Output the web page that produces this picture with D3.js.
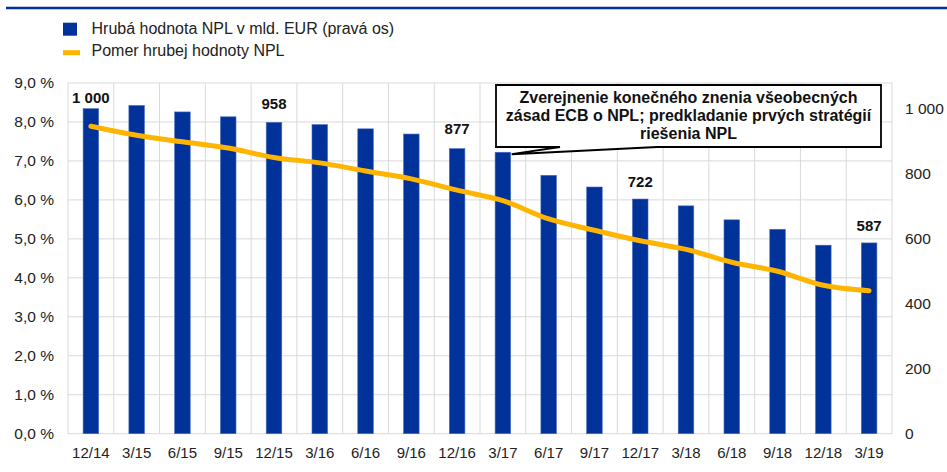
<!DOCTYPE html>
<html><head><meta charset="utf-8">
<script src="https://cdn.jsdelivr.net/npm/d3@7"></script>
<style>
html,body{margin:0;padding:0;background:#fff;}
svg{display:block;font-family:"Liberation Sans",Arial,sans-serif;}
</style></head>
<body>
<svg id="chart" width="947" height="472"></svg>
<script>
const categories = ["12/14","3/15","6/15","9/15","12/15","3/16","6/16","9/16","12/16","3/17","6/17","9/17","12/17","3/18","6/18","9/18","12/18","3/19"];
const npl_bn = [1000,1010,990,975,958,951,938,922,877,866,795,759,722,701,658,629,580,587];
const npl_ratio = [7.89,7.66,7.49,7.33,7.09,6.95,6.74,6.54,6.25,5.98,5.51,5.22,4.95,4.73,4.40,4.17,3.81,3.67];
const leftTicks = [0,1,2,3,4,5,6,7,8,9];
const rightTicks = [0,200,400,600,800,1000];
const barLabels = [{cat:"12/14",text:"1 000"},{cat:"12/15",text:"958"},{cat:"12/16",text:"877"},{cat:"12/17",text:"722"},{cat:"3/19",text:"587"}];
const legendItems = ["Hrubá hodnota NPL v mld. EUR (pravá os)","Pomer hrubej hodnoty NPL"];
const annotation = {cat:"3/17", lines:["Zverejnenie konečného znenia všeobecných","zásad ECB o NPL; predkladanie prvých stratégií","riešenia NPL"]};

const BLUE = "#003299", ORANGE = "#FFB400", GRID = "#d9d9d9";
const svg = d3.select("#chart");
const m = {left:68, right:892, top:83, bottom:433.7};

const x = d3.scaleBand().domain(categories).range([m.left, m.right]).paddingInner(0.66).paddingOuter(0.33);
const xb = d3.scaleBand().domain(categories).range([m.left, m.right]);
const yL = d3.scaleLinear().domain([0,9]).range([m.bottom, m.top]);
const yR = d3.scaleLinear().domain([0,1079]).range([m.bottom, m.top]);

// top rule
svg.append("line").attr("x1",6).attr("x2",947).attr("y1",8).attr("y2",8).attr("stroke",BLUE).attr("stroke-width",2.5);

// gridlines
const g = svg.append("g");
g.selectAll("line.h").data(leftTicks).join("line")
  .attr("x1",m.left).attr("x2",m.right).attr("y1",d=>yL(d)).attr("y2",d=>yL(d))
  .attr("stroke",GRID).attr("stroke-width",1);
const vx = categories.map(c=>xb(c)).concat([m.right]);
g.selectAll("line.v").data(vx).join("line")
  .attr("x1",d=>d).attr("x2",d=>d).attr("y1",m.top).attr("y2",m.bottom)
  .attr("stroke",GRID).attr("stroke-width",1);

// bars
svg.append("g").selectAll("rect").data(categories).join("rect")
  .attr("x",c=>x(c)).attr("width",x.bandwidth())
  .attr("y",(c,i)=>yR(npl_bn[i])).attr("height",(c,i)=>m.bottom-yR(npl_bn[i]))
  .attr("fill",BLUE).attr("stroke","#4a6fbf").attr("stroke-width",0.6);

// line
const line = d3.line().x((d,i)=>xb(categories[i])+xb.bandwidth()/2).y(d=>yL(d)).curve(d3.curveMonotoneX);
svg.append("path").datum(npl_ratio).attr("d",line).attr("fill","none")
  .attr("stroke",ORANGE).attr("stroke-width",5).attr("stroke-linecap","round").attr("stroke-linejoin","round");

// left axis
const axL = d3.axisLeft(yL).tickValues(leftTicks).tickSize(0).tickPadding(0)
  .tickFormat(d=>d3.format(".1f")(d).replace(".",",")+" %");
const gL = svg.append("g").attr("transform","translate(54,0)").call(axL);
gL.select(".domain").remove();
gL.selectAll("text").attr("font-size",15.5).attr("fill","#222").attr("font-family","Liberation Sans, Arial, sans-serif");

// right axis
const axR = d3.axisRight(yR).tickValues(rightTicks).tickSize(0).tickPadding(0)
  .tickFormat(d=>d3.format(",")(d).replace(/,/g," "));
const gR = svg.append("g").attr("transform","translate(905,0)").call(axR);
gR.select(".domain").remove();
gR.selectAll("text").attr("font-size",15.5).attr("fill","#222").attr("font-family","Liberation Sans, Arial, sans-serif");

// bottom axis
const axB = d3.axisBottom(xb).tickSize(0).tickPadding(0);
const gB = svg.append("g").attr("transform",`translate(0,${m.bottom+14})`).call(axB);
gB.select(".domain").remove();
gB.selectAll("text").attr("font-size",15).attr("fill","#222").attr("font-family","Liberation Sans, Arial, sans-serif");

// bar labels
const labelGap = {"12/14":6,"12/15":13,"12/16":15,"12/17":12,"3/19":12};
svg.append("g").selectAll("text").data(barLabels).join("text")
  .attr("x",d=>xb(d.cat)+xb.bandwidth()/2)
  .attr("y",d=>yR(npl_bn[categories.indexOf(d.cat)])-labelGap[d.cat])
  .attr("text-anchor","middle").attr("font-size",15).attr("font-weight","bold").attr("fill","#111")
  .text(d=>d.text);

// annotation callout
const ai = categories.indexOf(annotation.cat);
const tipX = x(annotation.cat)+x.bandwidth()+1, tipY = yR(npl_bn[ai])+2;
const bx0=496, bx1=881, by0=85, by1=147;
const t1=560, t2=657;
svg.append("path")
  .attr("d",`M${bx0},${by0}H${bx1}V${by1}H${t2}L${tipX},${tipY}L${t1},${by1}H${bx0}Z`)
  .attr("fill","#fff").attr("stroke","#000").attr("stroke-width",1.8);
svg.append("g").selectAll("text").data(annotation.lines).join("text")
  .attr("x",(bx0+bx1)/2).attr("y",(d,i)=>103+i*18)
  .attr("text-anchor","middle").attr("font-size",16).attr("font-weight","bold").attr("fill","#111")
  .text(d=>d);

// legend
svg.append("rect").attr("x",63).attr("y",22.7).attr("width",14).attr("height",13).attr("fill",BLUE);
svg.append("line").attr("x1",63).attr("x2",80).attr("y1",52.7).attr("y2",52.7).attr("stroke",ORANGE).attr("stroke-width",5);
svg.append("g").selectAll("text").data(legendItems).join("text")
  .attr("x",91.5).attr("y",(d,i)=>34+i*22).attr("font-size",16).attr("fill","#222")
  .text(d=>d);
</script>
</body></html>
